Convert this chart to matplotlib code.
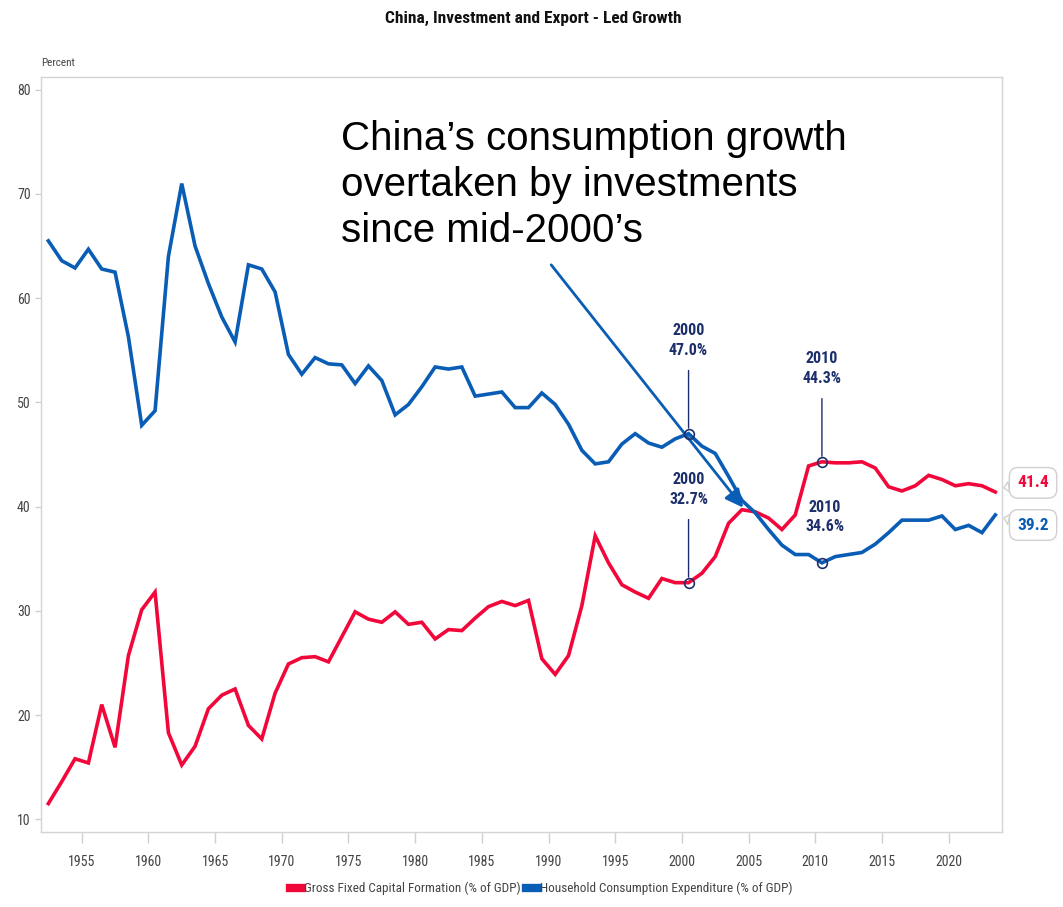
import matplotlib
matplotlib.use("Agg")
import matplotlib.pyplot as plt
import numpy as np

# Anteile am BIP in Prozent, 1952-2023
years = np.arange(1952, 2024)
gfcf = [11.5, 13.6, 15.8, 15.4, 21.0, 16.9, 25.7, 30.1, 31.8, 18.3,
        15.2, 17.0, 20.6, 21.9, 22.5, 19.0, 17.7, 22.1, 24.9, 25.5,
        25.6, 25.1, 27.5, 29.9, 29.2, 28.9, 29.9, 28.7, 28.9, 27.3,
        28.2, 28.1, 29.3, 30.4, 30.9, 30.5, 31.0, 25.4, 23.9, 25.7,
        30.5, 37.2, 34.6, 32.5, 31.8, 31.2, 33.1, 32.7, 32.7, 33.6,
        35.2, 38.4, 39.7, 39.5, 38.9, 37.8, 39.2, 43.9, 44.3, 44.2,
        44.2, 44.3, 43.7, 41.9, 41.5, 42.0, 43.0, 42.6, 42.0, 42.2,
        42.0, 41.4]
hce = [65.5, 63.6, 62.9, 64.7, 62.8, 62.5, 56.3, 47.8, 49.2, 64.0,
       71.0, 65.0, 61.4, 58.2, 55.8, 63.2, 62.8, 60.6, 54.6, 52.7,
       54.3, 53.7, 53.6, 51.8, 53.5, 52.1, 48.8, 49.8, 51.5, 53.4,
       53.2, 53.4, 50.6, 50.8, 51.0, 49.5, 49.5, 50.9, 49.8, 47.9,
       45.4, 44.1, 44.3, 46.0, 47.0, 46.1, 45.7, 46.5, 47.0, 45.8,
       45.1, 42.9, 40.6, 39.4, 37.8, 36.3, 35.4, 35.4, 34.6, 35.2,
       35.4, 35.6, 36.4, 37.5, 38.7, 38.7, 38.7, 39.1, 37.8, 38.2,
       37.5, 39.2]

# Markierte Jahre: (Jahr, Reihe)
callouts = [(2000, "hce"), (2010, "gfcf"), (2000, "gfcf"), (2010, "hce")]

label_gfcf = "Gross Fixed Capital Formation (% of GDP)"
label_hce = "Household Consumption Expenditure (% of GDP)"
title = "China, Investment and Export - Led Growth"
note = "China\u2019s consumption growth\novertaken by investments\nsince mid-2000\u2019s"

red = "#f2073b"
blue = "#0a5db5"
navy = "#1c2f6b"
narrow = ["Roboto Condensed", "Open Sans Condensed", "Liberation Sans Narrow",
          "Liberation Sans", "DejaVu Sans"]

plt.rcParams["font.family"] = narrow
plt.rcParams["font.stretch"] = "condensed"

series = {"gfcf": gfcf, "hce": hce}
x = years + 0.5  # Jahreswerte in der Jahresmitte

fig = plt.figure(figsize=(10.63, 9.07), dpi=100)
ax = fig.add_axes([0.0386, 0.0830, 0.9040, 0.8318])

ax.plot(x, gfcf, color=red, lw=2.6, solid_joinstyle="miter", label=label_gfcf)
ax.plot(x, hce, color=blue, lw=2.6, solid_joinstyle="miter", label=label_hce)

ax.set_xlim(1951.95, 2024.0)
ax.set_ylim(8.8, 81.2)
ax.set_xticks(np.arange(1955, 2021, 5))
ax.set_yticks(np.arange(10, 81, 10))

for s in ax.spines.values():
    s.set_color("#d4d4d4")
    s.set_linewidth(1.0)
ax.tick_params(axis="x", length=8, width=1, color="#cfcfcf", labelcolor="#444444",
               labelsize=10, pad=9)
ax.tick_params(axis="y", length=4.5, width=1, color="#cfcfcf", labelcolor="#444444",
               labelsize=10, pad=3)

ax.text(0.0, 1.019, "Percent", transform=ax.transAxes, ha="left", va="center",
        fontsize=8, color="#444444")
fig.text(0.502, 0.980, title, ha="center", va="center", fontsize=12.5,
         fontweight="bold", color="#111111")

# Kommentar mit Pfeil auf den Schnittpunkt
ax.text(0.312, 0.944, note, transform=ax.transAxes, ha="left", va="top",
        fontsize=29, family=["Liberation Sans", "DejaVu Sans"], stretch="normal",
        color="black", linespacing=1.27)
ax.annotate("", xy=(2004.6, 39.9), xytext=(1990.2, 63.2),
            arrowprops=dict(arrowstyle="-|>,head_length=0.6,head_width=0.3",
                            color=blue, lw=2.0, mutation_scale=18,
                            shrinkA=0, shrinkB=0))

# Werte-Markierungen
for yr, key in callouts:
    val = series[key][yr - years[0]]
    px = yr + 0.5
    ax.plot(px, val, marker="o", ms=7, mfc="none", mec=navy, mew=1.2, zorder=5)
    if (yr, key) == (2010, "hce"):
        ax.annotate(f"{yr}\n{val:.1f}%", xy=(px, val), xytext=(2, 33),
                    textcoords="offset points", ha="center", va="center",
                    fontsize=11.5, fontweight="bold", color=navy, linespacing=1.4)
    else:
        ax.annotate(f"{yr}\n{val:.1f}%", xy=(px, val), xytext=(0, 67),
                    textcoords="offset points", ha="center", va="center",
                    fontsize=11.5, fontweight="bold", color=navy, linespacing=1.4,
                    arrowprops=dict(arrowstyle="-", color=navy, lw=1.0,
                                    shrinkA=7, shrinkB=4))

# Endwerte rechts
for key, col, dy, oy in [("gfcf", red, 0.4, 3.6), ("hce", blue, -0.3, -5)]:
    last = series[key][-1]
    ax.annotate(f"{last:.1f}", xy=(1.002, last + dy), xycoords=("axes fraction", "data"),
                xytext=(21, oy), textcoords="offset points",
                ha="center", va="center", fontsize=12.5, fontweight="bold", color=col,
                annotation_clip=False,
                bbox=dict(boxstyle="round,pad=0.45,rounding_size=0.5", fc="white",
                          ec="#d0d0d0", lw=1.0),
                arrowprops=dict(arrowstyle="wedge,tail_width=0.6", fc="white",
                                ec="#d0d0d0", lw=1.0, shrinkA=0, shrinkB=0))

fig.legend(loc="lower center", bbox_to_anchor=(0.509, 0.0), ncol=2, frameon=False,
           fontsize=9.5, handlelength=0.9, handletextpad=0.15, columnspacing=0.4,
           labelcolor="#444444")
for h in fig.legends[0].get_lines():
    h.set_linewidth(6)

fig.savefig("out.png", dpi=100)
